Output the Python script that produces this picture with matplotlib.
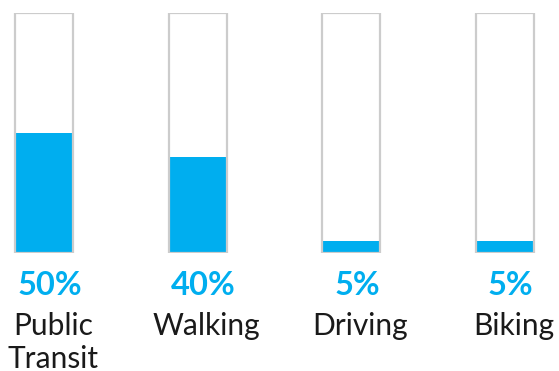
import matplotlib
matplotlib.use("Agg")
import matplotlib.pyplot as plt
from matplotlib.transforms import offset_copy

# ---------- Data ----------
categories = ["Public\nTransit", "Walking", "Driving", "Biking"]
shares = [50, 40, 5, 5]
pct_labels = ["50%", "40%", "5%", "5%"]

BLUE = "#00aeef"
EDGE = "#cccccc"
TEXT = "#1a1a1a"
W = 0.377

fig = plt.figure(figsize=(5.59, 3.71), dpi=100)
ax = fig.add_axes([0, 1 - 253 / 371, 1, 240 / 371])
ax.set_xlim(-0.286, 3.351)
ax.set_ylim(0, 100)
ax.axis("off")

x = list(range(len(categories)))
ax.bar(x, shares, width=W - 0.01, color=BLUE, zorder=2)
ax.bar(x, [100] * len(x), width=W, facecolor="none", edgecolor=EDGE, linewidth=1.6, zorder=3)

# labels sit a little right of the bar centres in the original
base = ax.get_xaxis_transform()
tr_pct = offset_copy(base, fig=fig, x=5.5, y=0, units="dots")
tr_cat = offset_copy(base, fig=fig, x=9, y=0, units="dots")
for i, (p, c) in enumerate(zip(pct_labels, categories)):
    ax.text(i, -0.175, p, transform=tr_pct, ha="center", va="baseline", color=BLUE,
            fontsize=23.5, fontweight="bold", family="Lato", clip_on=False)
    for j, line in enumerate(c.split("\n")):
        ax.text(i, -0.342 - 0.1375 * j, line, transform=tr_cat, ha="center", va="baseline",
                color=TEXT, fontsize=21.5, fontweight="normal", family="Lato", clip_on=False)

fig.savefig("out.png", dpi=100)
